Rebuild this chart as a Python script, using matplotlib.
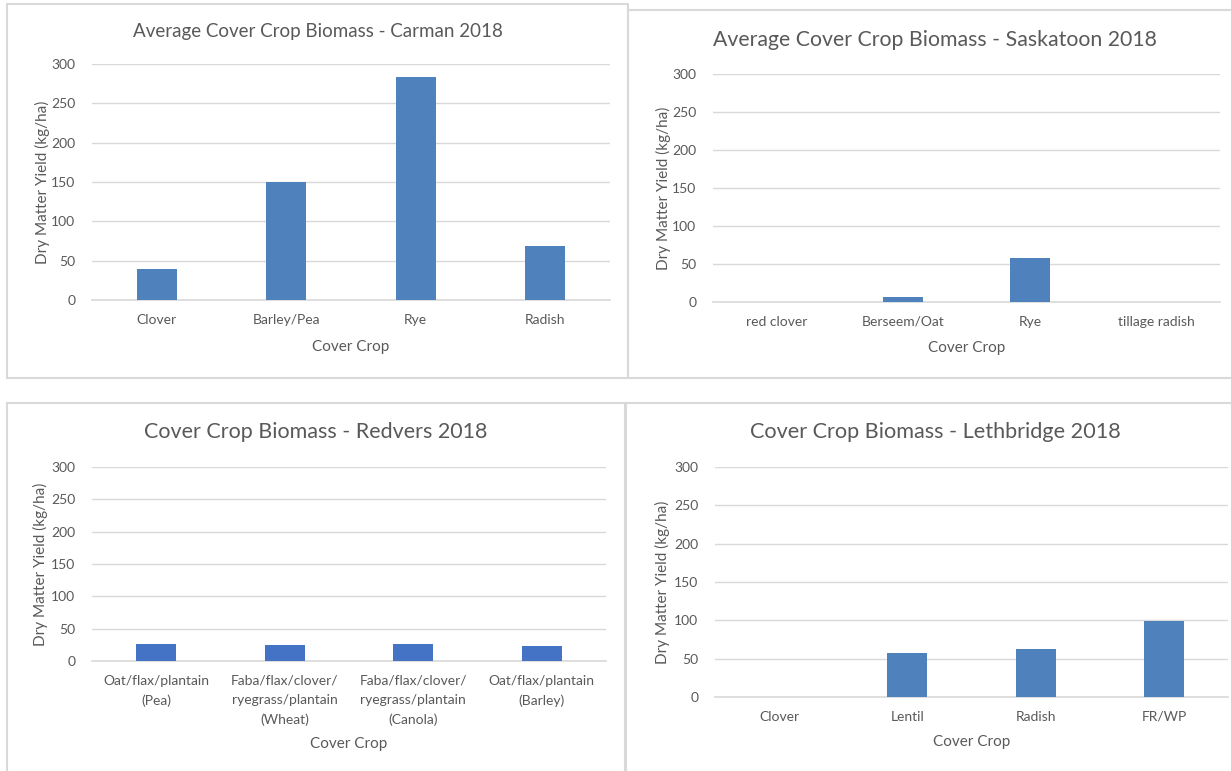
import matplotlib
matplotlib.use("Agg")
import matplotlib.pyplot as plt
from matplotlib.patches import Rectangle

plt.rcParams['font.family'] = ['Lato', 'DejaVu Sans']

W, H = 1231, 771

# ---- data ----
carman_cats = ["Clover", "Barley/Pea", "Rye", "Radish"]
carman_vals = [39, 150, 283, 69]

saskatoon_cats = ["red clover", "Berseem/Oat", "Rye", "tillage radish"]
saskatoon_vals = [0, 7, 58, 0]

redvers_cats = ["Oat/flax/plantain\n(Pea)",
                "Faba/flax/clover/\nryegrass/plantain\n(Wheat)",
                "Faba/flax/clover/\nryegrass/plantain\n(Canola)",
                "Oat/flax/plantain\n(Barley)"]
redvers_vals = [27, 24, 26, 23]

lethbridge_cats = ["Clover", "Lentil", "Radish", "FR/WP"]
lethbridge_vals = [0, 57, 62, 99]

yticks = [0, 50, 100, 150, 200, 250, 300]

TXT = "#595959"
GRID = "#D9D9D9"
BLUE1 = "#4F81BD"
BLUE2 = "#4472C4"

fig = plt.figure(figsize=(W / 100, H / 100), dpi=100)


def fr(x0, y0, x1, y1):
    return [x0 / W, 1 - y1 / H, (x1 - x0) / W, (y1 - y0) / H]


# panel borders
for (x0, y0, x1, y1) in [(7, 4, 628, 378), (628, 10, 1232, 378),
                         (7, 403, 625, 772), (626, 403, 1232, 772)]:
    fig.patches.append(Rectangle((x0 / W, 1 - y1 / H), (x1 - x0) / W, (y1 - y0) / H,
                                 transform=fig.transFigure, fill=False,
                                 edgecolor=GRID, linewidth=1.5))


def panel(box, cats, vals, color, title, title_xy, title_size,
          ylabel_x, xlabel_y, tick_size=10, ylab_size=11):
    ax = fig.add_axes(fr(*box))
    ax.bar(range(len(cats)), vals, width=0.31, color=color, zorder=3)
    ax.set_xlim(-0.5, len(cats) - 0.5)
    ax.set_ylim(0, 300)
    ax.set_yticks(yticks)
    ax.set_xticks(range(len(cats)))
    ax.set_xticklabels(cats, color=TXT, fontsize=tick_size, linespacing=1.7)
    ax.tick_params(axis='y', labelcolor=TXT, labelsize=tick_size, length=0, pad=12)
    ax.tick_params(axis='x', length=0, pad=10)
    ax.grid(axis='y', color=GRID, linewidth=1.0, zorder=0)
    for s in ['top', 'right', 'left']:
        ax.spines[s].set_visible(False)
    ax.spines['bottom'].set_color(GRID)
    ax.spines['bottom'].set_linewidth(1.2)
    fig.text(title_xy[0] / W, 1 - title_xy[1] / H, title, color=TXT,
             fontsize=title_size, ha='center', va='center')
    x0, y0, x1, y1 = box
    fig.text(ylabel_x / W, 1 - ((y0 + y1) / 2) / H, "Dry Matter Yield (kg/ha)",
             rotation=90, color=TXT, fontsize=ylab_size, ha='center', va='center')
    fig.text(((x0 + x1) / 2) / W, 1 - xlabel_y / H, "Cover Crop", color=TXT,
             fontsize=tick_size + 1, ha='center', va='center')
    return ax


panel((92, 64, 610, 300), carman_cats, carman_vals, BLUE1,
      "Average Cover Crop Biomass - Carman 2018", (318, 31), 13.5, 42, 347)
panel((713, 74, 1220, 302), saskatoon_cats, saskatoon_vals, BLUE1,
      "Average Cover Crop Biomass - Saskatoon 2018", (935, 40), 15.3, 663, 348)
panel((92, 467, 606, 661), redvers_cats, redvers_vals, BLUE2,
      "Cover Crop Biomass - Redvers 2018", (316, 432), 15.5, 40, 744)
panel((715, 467, 1228, 697), lethbridge_cats, lethbridge_vals, BLUE1,
      "Cover Crop Biomass - Lethbridge 2018", (935, 432), 15.6, 662, 742)

fig.savefig("out.png", dpi=100)
